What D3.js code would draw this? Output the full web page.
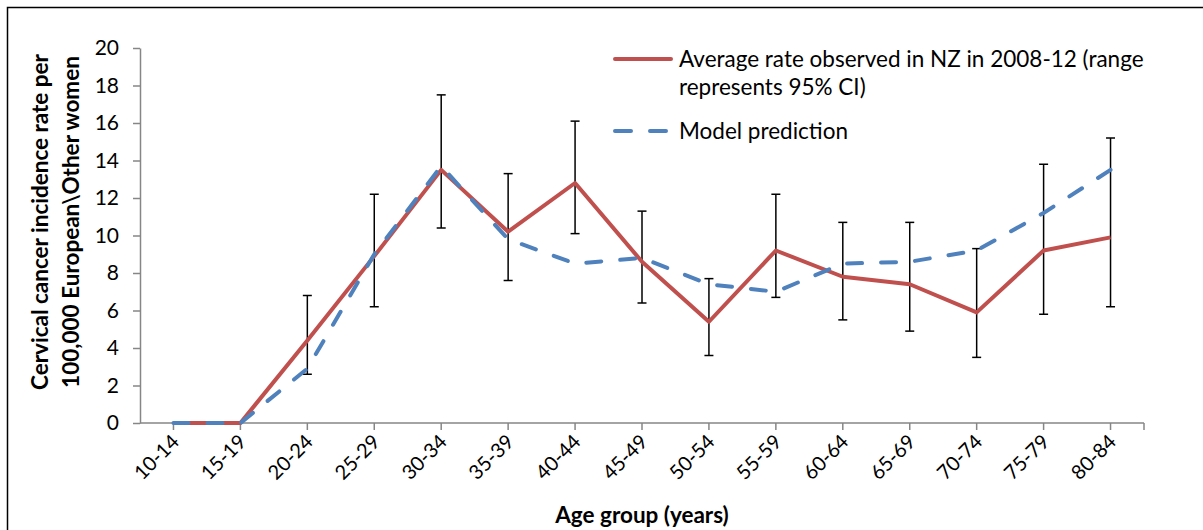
<!DOCTYPE html>
<html>
<head>
<meta charset="utf-8">
<script src="https://cdn.jsdelivr.net/npm/d3@7"></script>
<style>
  body { margin: 0; background: #fff; }
  svg { display: block; font-family: Lato, "Open Sans", sans-serif; }
</style>
</head>
<body>
<div id="chart"></div>
<script>
// 1. DATA
const ageGroups = ["10-14", "15-19", "20-24", "25-29", "30-34", "35-39", "40-44", "45-49",
                   "50-54", "55-59", "60-64", "65-69", "70-74", "75-79", "80-84"];
const observed = [0, 0, 4.4, 8.9, 13.5, 10.2, 12.8, 8.6, 5.4, 9.2, 7.8, 7.4, 5.9, 9.2, 9.9];
const ciLow    = [null, null, 2.6, 6.2, 10.4, 7.6, 10.1, 6.4, 3.6, 6.7, 5.5, 4.9, 3.5, 5.8, 6.2];
const ciHigh   = [null, null, 6.8, 12.2, 17.5, 13.3, 16.1, 11.3, 7.7, 12.2, 10.7, 10.7, 9.3, 13.8, 15.2];
const predicted = [0, 0, 2.9, 9.0, 13.7, 9.8, 8.5, 8.8, 7.4, 7.0, 8.5, 8.6, 9.2, 11.2, 13.5];
const yTicks = [0, 2, 4, 6, 8, 10, 12, 14, 16, 18, 20];

// 2. SETUP
const width = 1203;
const height = 530;
const margin = { top: 48, right: 59, bottom: 107, left: 140 };

const red = "#C0504D";
const blue = "#4F81BD";
const axisGrey = "#868686";

const svg = d3.select("#chart")
    .append("svg")
    .attr("width", width)
    .attr("height", height);

// outer frame (runs off the right and bottom edges)
svg.append("rect")
    .attr("x", 7.5).attr("y", 7.5)
    .attr("width", width + 20).attr("height", height + 20)
    .attr("fill", "none")
    .attr("stroke", "#000")
    .attr("stroke-width", 1.5);

// --- SCALES ---
const x = d3.scaleBand()
    .domain(ageGroups)
    .range([margin.left, width - margin.right]);

const y = d3.scaleLinear()
    .domain([0, 20])
    .range([height - margin.bottom, margin.top]);

const cx = d => x(d) + x.bandwidth() / 2;

// --- Y AXIS ---
const yAxis = svg.append("g")
    .attr("transform", `translate(${margin.left},0)`)
    .call(d3.axisLeft(y).tickValues(yTicks).tickSize(7).tickPadding(14).tickSizeOuter(0));
yAxis.select(".domain").attr("stroke", axisGrey).attr("stroke-width", 1.5);
yAxis.selectAll(".tick line").attr("stroke", axisGrey).attr("stroke-width", 1.5);
yAxis.selectAll(".tick text")
    .attr("font-family", "Lato, sans-serif")
    .attr("font-size", "21px")
    .attr("fill", "#000");

// --- X AXIS (ticks at the points, plus one at the far end) ---
const x0 = y(0);
const xg = svg.append("g");
xg.append("line")
    .attr("x1", margin.left).attr("x2", width - margin.right)
    .attr("y1", x0).attr("y2", x0)
    .attr("stroke", axisGrey).attr("stroke-width", 1.5);

const tickXs = ageGroups.map(cx).concat([width - margin.right]);
xg.selectAll(".xtick")
    .data(tickXs)
    .join("line")
    .attr("class", "xtick")
    .attr("x1", d => d).attr("x2", d => d)
    .attr("y1", x0).attr("y2", x0 + 7)
    .attr("stroke", axisGrey).attr("stroke-width", 1.5);

xg.selectAll(".xlabel")
    .data(ageGroups)
    .join("text")
    .attr("class", "xlabel")
    .attr("text-anchor", "end")
    .attr("font-size", "20px")
    .attr("transform", d => `translate(${cx(d) + 7},${x0 + 20}) rotate(-45)`)
    .text(d => d);

// --- AXIS TITLES ---
svg.append("text")
    .attr("x", (margin.left + width - margin.right) / 2)
    .attr("y", 523)
    .attr("text-anchor", "middle")
    .attr("font-size", "22.5px")
    .attr("font-weight", "bold")
    .text("Age group (years)");

const yTitle = svg.append("text")
    .attr("transform", "translate(48,222) rotate(-90)")
    .attr("text-anchor", "middle")
    .attr("font-size", "22.5px")
    .attr("font-weight", "bold");
yTitle.append("tspan").attr("x", 0).attr("dy", 0).text("Cervical cancer incidence rate per");
yTitle.append("tspan").attr("x", 0).attr("dy", 31).text("100,000 European\\Other women");

// --- ERROR BARS ---
const ci = ageGroups.map((g, i) => ({ g, lo: ciLow[i], hi: ciHigh[i] })).filter(d => d.lo !== null);
const eb = svg.append("g").attr("stroke", "#000").attr("stroke-width", 1.5);
eb.selectAll(".stem").data(ci).join("line")
    .attr("x1", d => cx(d.g)).attr("x2", d => cx(d.g))
    .attr("y1", d => y(d.lo)).attr("y2", d => y(d.hi));
eb.selectAll(".capHi").data(ci).join("line")
    .attr("x1", d => cx(d.g) - 4.5).attr("x2", d => cx(d.g) + 4.5)
    .attr("y1", d => y(d.hi)).attr("y2", d => y(d.hi));
eb.selectAll(".capLo").data(ci).join("line")
    .attr("x1", d => cx(d.g) - 4.5).attr("x2", d => cx(d.g) + 4.5)
    .attr("y1", d => y(d.lo)).attr("y2", d => y(d.lo));

// --- LINES ---
const line = d3.line()
    .x((d, i) => cx(ageGroups[i]))
    .y(d => y(d));

svg.append("path")
    .datum(observed)
    .attr("d", line)
    .attr("fill", "none")
    .attr("stroke", red)
    .attr("stroke-width", 4)
    .attr("stroke-linejoin", "round");

svg.append("path")
    .datum(predicted)
    .attr("d", line)
    .attr("fill", "none")
    .attr("stroke", blue)
    .attr("stroke-width", 4)
    .attr("stroke-linecap", "round")
    .attr("stroke-dasharray", "15,19");

// --- LEGEND ---
const legend = svg.append("g").attr("font-size", "22.5px");
legend.append("line")
    .attr("x1", 615).attr("x2", 671).attr("y1", 59).attr("y2", 59)
    .attr("stroke", red).attr("stroke-width", 4).attr("stroke-linecap", "round");
const lt = legend.append("text").attr("x", 679).attr("y", 67);
lt.append("tspan").attr("x", 679).attr("dy", 0).text("Average rate observed in NZ in 2008-12 (range");
lt.append("tspan").attr("x", 679).attr("dy", 28).text("represents 95% CI)");

legend.append("line")
    .attr("x1", 615).attr("x2", 671).attr("y1", 131).attr("y2", 131)
    .attr("stroke", blue).attr("stroke-width", 4)
    .attr("stroke-linecap", "round").attr("stroke-dasharray", "16,19");
legend.append("text").attr("x", 679).attr("y", 139).text("Model prediction");
</script>
</body>
</html>
